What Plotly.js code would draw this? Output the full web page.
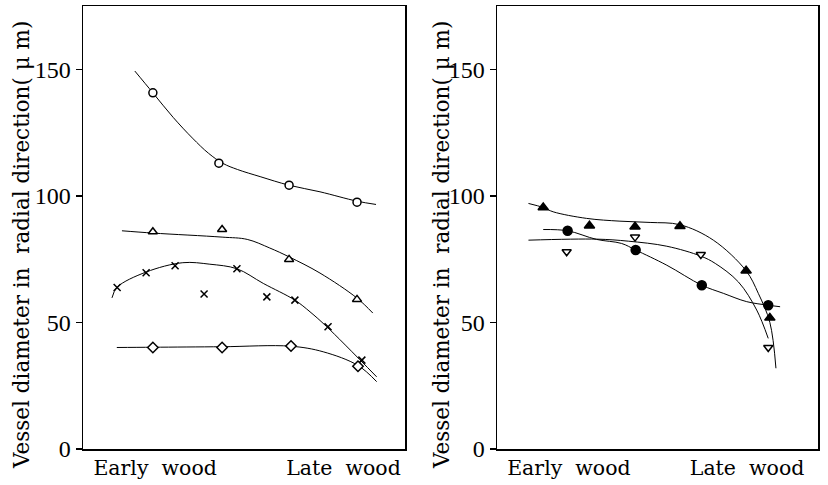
<!DOCTYPE html>
<html>
<head>
<meta charset="utf-8">
<script src="https://cdn.plot.ly/plotly-3.0.1.min.js"></script>
<style>html,body{margin:0;padding:0;background:#fff;}#chart{width:828px;height:485px;}</style>
</head>
<body>
<div id="chart"></div>
<script>
// ---------- tick labels ----------
const yTickVals = [0, 50, 100, 150];
const xTickText = ['Early\u00A0\u00A0wood', 'Late\u00A0\u00A0wood'];
const yTitle = 'Vessel\u00A0diameter\u00A0in\u00A0\u00A0radial\u00A0direction(\u00A0\u03BC\u00A0m)';

// ---------- left panel: measured points ----------
const L_circle_x = [21.7, 42.2, 64.0, 85.1];
const L_circle_y = [140.7, 112.9, 104.2, 97.5];
const L_tri_x = [21.7, 43.2, 64.0, 85.1];
const L_tri_y = [85.8, 86.7, 74.9, 59.1];
const L_cross_x = [10.6, 19.6, 28.6, 37.6, 47.8, 57.1, 65.8, 76.1, 86.6];
const L_cross_y = [63.8, 69.6, 72.4, 61.2, 71.2, 60.1, 58.8, 48.3, 35.1];
const L_diam_x = [21.7, 43.2, 64.6, 85.4];
const L_diam_y = [40.1, 40.1, 40.7, 32.7];

// ---------- left panel: fitted curves ----------
const L_circleFit_x = [16.1, 21.7, 28.0, 34.0, 39.0, 43.5, 48.0, 55.0, 64.0, 73.6, 85.1, 91.0];
const L_circleFit_y = [149.3, 140.7, 131.0, 122.8, 116.8, 112.8, 110.4, 107.6, 104.2, 101.6, 97.9, 96.6];
const L_triFit_x = [12.1, 21.7, 43.2, 51.0, 58.0, 64.0, 73.6, 85.1, 90.0];
const L_triFit_y = [86.2, 85.3, 83.7, 82.8, 79.4, 75.9, 69.5, 59.6, 53.7];
const L_crossFit_x = [9.0, 10.6, 19.6, 31.0, 39.4, 47.8, 56.0, 65.8, 70.5, 75.7, 91.2];
const L_crossFit_y = [59.7, 63.9, 69.9, 73.6, 73.0, 71.2, 65.4, 58.8, 54.2, 48.3, 28.5];
const L_diamFit_x = [10.5, 21.7, 43.2, 64.6, 74.6, 85.4, 91.2];
const L_diamFit_y = [40.1, 40.2, 40.4, 40.6, 38.4, 33.0, 26.6];

// ---------- right panel: measured points ----------
const R_tri_x = [14.4, 28.8, 43.0, 57.0, 77.6, 85.0];
const R_tri_y = [95.4, 88.2, 87.8, 88.0, 70.4, 51.8];
const R_circ_x = [22.0, 43.2, 63.8, 84.5];
const R_circ_y = [86.2, 78.6, 64.7, 56.8];
const R_itri_x = [21.7, 43.0, 63.5, 84.5];
const R_itri_y = [77.9, 83.7, 76.8, 40.1];

// ---------- right panel: fitted curves ----------
const R_triFit_x = [9.8, 14.4, 17.5, 27.9, 38.3, 47.7, 57.0, 67.4, 77.6, 81.4, 85.0, 86.9];
const R_triFit_y = [97.0, 95.4, 93.7, 91.1, 90.0, 89.5, 88.6, 82.5, 70.4, 61.5, 50.0, 31.9];
const R_circFit_x = [14.4, 22.0, 31.0, 38.8, 43.2, 52.9, 63.8, 70.5, 77.8, 84.5, 88.2];
const R_circFit_y = [86.7, 86.2, 82.8, 81.2, 78.6, 72.6, 64.7, 61.5, 58.2, 56.8, 56.2];
const R_itriFit_x = [9.8, 31.0, 40.9, 52.9, 63.5, 68.0, 75.2, 80.9, 84.5];
const R_itriFit_y = [82.5, 82.9, 82.1, 80.1, 76.2, 73.3, 66.0, 54.9, 43.7];

const serif = 'DejaVu Serif, serif';
const digitFont = 'Liberation Serif, serif';

function fit(x, y, xa, ya) {
  return {x: x, y: y, xaxis: xa, yaxis: ya, type: 'scatter', mode: 'lines',
    line: {color: '#000', width: 1, shape: 'spline', smoothing: 1}, hoverinfo: 'skip'};
}
function pts(x, y, xa, ya, symbol, fill, size) {
  return {x: x, y: y, xaxis: xa, yaxis: ya, type: 'scatter', mode: 'markers',
    marker: {symbol: symbol, size: size || 9, color: fill, line: {color: '#000', width: 1.5}}};
}

const traces = [
  fit(L_circleFit_x, L_circleFit_y, 'x', 'y'),
  fit(L_triFit_x, L_triFit_y, 'x', 'y'),
  fit(L_crossFit_x, L_crossFit_y, 'x', 'y'),
  fit(L_diamFit_x, L_diamFit_y, 'x', 'y'),
  pts(L_circle_x, L_circle_y, 'x', 'y', 'circle', '#fff', 8),
  pts(L_tri_x, L_tri_y, 'x', 'y', 'triangle-up', '#fff', 8),
  pts(L_cross_x, L_cross_y, 'x', 'y', 'x-thin', '#000', 7),
  pts(L_diam_x, L_diam_y, 'x', 'y', 'diamond', '#fff', 8),

  fit(R_triFit_x, R_triFit_y, 'x2', 'y2'),
  fit(R_circFit_x, R_circFit_y, 'x2', 'y2'),
  fit(R_itriFit_x, R_itriFit_y, 'x2', 'y2'),
  pts(R_tri_x, R_tri_y, 'x2', 'y2', 'triangle-up', '#000', 9),
  pts(R_circ_x, R_circ_y, 'x2', 'y2', 'circle', '#000', 9),
  pts(R_itri_x, R_itri_y, 'x2', 'y2', 'triangle-down', '#fff', 8)
];

function yAxis(anchor) {
  return {anchor: anchor, range: [0, 175], tickvals: yTickVals, ticks: 'outside', ticklen: 6,
    tickwidth: 1.5, tickcolor: '#000', showline: true, linecolor: '#000', linewidth: 1.5,
    mirror: true, showgrid: false, zeroline: false,
    tickfont: {family: digitFont, size: 24, color: '#000'}};
}
function xAxis(anchor, domain, tv) {
  return {anchor: anchor, domain: domain, range: [0, 100], tickvals: tv, ticktext: xTickText,
    ticks: '', showline: true, linecolor: '#000', linewidth: 1.5, mirror: true,
    showgrid: false, zeroline: false,
    tickfont: {family: serif, size: 20.5, color: '#000'}};
}

const layout = {
  width: 828, height: 485,
  margin: {l: 0, r: 0, t: 6, b: 36},
  paper_bgcolor: '#fff', plot_bgcolor: '#fff',
  showlegend: false,
  xaxis: xAxis('y', [83/828, 405/828], [22.4, 80.9]),
  yaxis: yAxis('x'),
  xaxis2: xAxis('y2', [497/828, 818/828], [22.4, 77.9]),
  yaxis2: yAxis('x2'),
  annotations: [
    {text: yTitle, xref: 'paper', yref: 'paper', x: 22/828, y: (449-245)/443, textangle: -90,
     showarrow: false, xanchor: 'center', yanchor: 'middle',
     font: {family: serif, size: 21.5, color: '#000'}},
    {text: yTitle, xref: 'paper', yref: 'paper', x: 442/828, y: (449-245)/443, textangle: -90,
     showarrow: false, xanchor: 'center', yanchor: 'middle',
     font: {family: serif, size: 21.5, color: '#000'}}
  ]
};

Plotly.newPlot('chart', traces, layout, {staticPlot: true, displayModeBar: false});
</script>
</body>
</html>
